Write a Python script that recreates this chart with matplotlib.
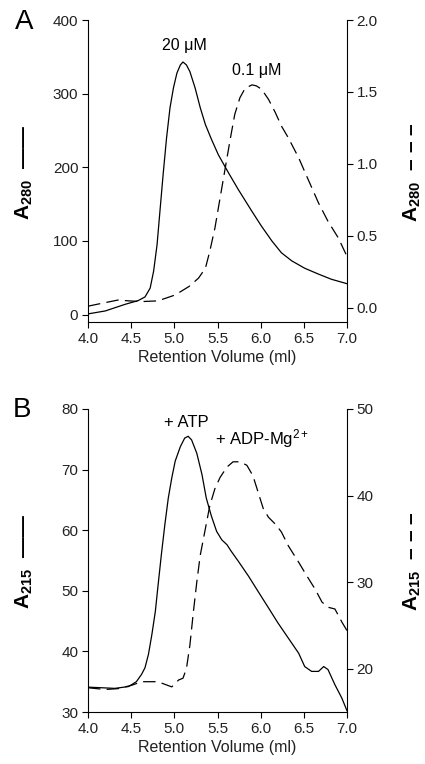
import matplotlib
matplotlib.use("Agg")
import matplotlib.pyplot as plt

plt.rcParams['font.family'] = ['Liberation Sans', 'DejaVu Sans']
plt.rcParams['mathtext.fontset'] = 'custom'
plt.rcParams['mathtext.rm'] = 'Liberation Sans'
plt.rcParams['mathtext.it'] = 'Liberation Sans:italic'
plt.rcParams['mathtext.bf'] = 'Liberation Sans:bold'

# panel A, solid trace (20 uM, left axis)
a_solid_x = [4.0, 4.2, 4.43, 4.58, 4.66, 4.72, 4.76, 4.80, 4.83, 4.87, 4.91, 4.95,
             4.99, 5.03, 5.07, 5.10, 5.14, 5.18, 5.24, 5.30, 5.36, 5.43, 5.51, 5.63,
             5.74, 5.90, 6.01, 6.13, 6.24, 6.36, 6.51, 6.67, 6.82, 7.0]
a_solid_y = [1, 5, 14, 19, 24, 36, 59, 95, 136, 190, 240, 281,
             308, 328, 339, 343, 339, 330, 308, 281, 258, 238, 217, 192,
             170, 140, 120, 100, 84, 73, 63, 55, 48, 42]

# panel A, dashed trace (0.1 uM, right axis)
a_dash_x = [4.0, 4.16, 4.35, 4.47, 4.62, 4.81, 5.01, 5.17, 5.28, 5.36, 5.41, 5.47,
            5.53, 5.59, 5.65, 5.70, 5.76, 5.82, 5.90, 5.95, 6.01, 6.09, 6.17, 6.24,
            6.32, 6.44, 6.55, 6.67, 6.78, 6.90, 7.0]
a_dash_y = [0.01, 0.03, 0.053, 0.047, 0.042, 0.047, 0.088, 0.147, 0.205, 0.274, 0.39, 0.553,
            0.763, 0.972, 1.18, 1.344, 1.46, 1.525, 1.549, 1.542, 1.519, 1.449, 1.356, 1.263,
            1.181, 1.042, 0.891, 0.728, 0.60, 0.484, 0.356]

# panel B, solid trace (+ ATP, left axis)
b_solid_x = [4.0, 4.16, 4.31, 4.47, 4.56, 4.62, 4.66, 4.70, 4.74, 4.78, 4.81, 4.85,
             4.89, 4.93, 4.97, 5.01, 5.07, 5.12, 5.16, 5.20, 5.26, 5.32, 5.37, 5.43,
             5.49, 5.55, 5.61, 5.66, 5.74, 5.86, 5.97, 6.09, 6.20, 6.32, 6.44, 6.51,
             6.59, 6.67, 6.73, 6.78, 6.86, 6.94, 7.0]
b_solid_y = [34.1, 34.0, 33.9, 34.2, 35.0, 36.2, 37.3, 39.5, 42.8, 46.6, 50.7, 56.0,
             60.9, 65.3, 68.6, 71.4, 73.8, 75.2, 75.5, 74.9, 72.7, 69.2, 65.3, 62.3,
             59.8, 58.4, 57.6, 56.5, 54.9, 52.4, 49.9, 47.2, 44.7, 42.2, 39.7, 37.5,
             36.7, 36.7, 37.5, 37.0, 34.5, 32.3, 30.2]

# panel B, dashed trace (+ ADP-Mg2+, right axis)
b_dash_x = [4.0, 4.2, 4.35, 4.51, 4.62, 4.70, 4.81, 4.89, 4.97, 5.05, 5.10, 5.14,
            5.18, 5.22, 5.26, 5.30, 5.36, 5.41, 5.47, 5.53, 5.61, 5.68, 5.76, 5.84,
            5.91, 5.97, 6.03, 6.09, 6.17, 6.24, 6.32, 6.44, 6.53, 6.63, 6.71, 6.78,
            6.86, 6.94, 7.0]
b_dash_y = [17.8, 17.6, 17.7, 18.1, 18.5, 18.5, 18.5, 18.2, 17.9, 18.7, 18.9, 20.0,
            22.7, 26.5, 30.0, 33.1, 36.2, 38.8, 40.8, 42.1, 43.3, 43.9, 43.9, 43.5,
            42.3, 40.4, 38.5, 37.5, 36.7, 35.8, 34.2, 32.3, 30.8, 29.2, 27.7, 27.1,
            26.9, 25.4, 24.4]

x_ticks = [4.0, 4.5, 5.0, 5.5, 6.0, 6.5, 7.0]
a_left_ticks = [0, 100, 200, 300, 400]
a_right_ticks = [0.0, 0.5, 1.0, 1.5, 2.0]
b_left_ticks = [30, 40, 50, 60, 70, 80]
b_right_ticks = [20, 30, 40, 50]

W, H = 425, 764
fig = plt.figure(figsize=(W / 100, H / 100), dpi=100)


def make_panel(top, bottom, ylim, ylim2, lt, rt, lfmt, rfmt):
    ax = fig.add_axes([88 / W, 1 - bottom / H, 259 / W, (bottom - top) / H])
    ax2 = ax.twinx()
    for a in (ax, ax2):
        a.spines['top'].set_visible(False)
        a.set_xlim(4.0, 7.0)
        a.tick_params(direction='out', length=4, width=0.8, labelsize=11,
                      pad=3, labelcolor='#222222')
    ax.spines['right'].set_visible(False)
    ax2.spines['left'].set_visible(False)
    ax2.spines['bottom'].set_visible(False)
    ax.set_ylim(*ylim)
    ax2.set_ylim(*ylim2)
    ax.set_xticks(x_ticks)
    ax.set_xticklabels(['%.1f' % v for v in x_ticks])
    ax.set_yticks(lt)
    ax.set_yticklabels([lfmt % v for v in lt])
    ax2.set_yticks(rt)
    ax2.set_yticklabels([rfmt % v for v in rt])
    ax.set_xlabel('Retention Volume (ml)', fontsize=11.5, labelpad=3,
                  color='#222222')
    return ax, ax2


axA, axA2 = make_panel(20, 322, (-10, 400), (-0.1, 2.0),
                       a_left_ticks, a_right_ticks, '%d', '%.1f')
axA.plot(a_solid_x, a_solid_y, color='black', lw=0.9)
axA2.plot(a_dash_x, a_dash_y, color='black', lw=0.9, dashes=(10, 5))
axA.text(5.12, 355, '20 \u03bcM', ha='center', va='bottom', fontsize=11.5)
axA2.text(5.95, 1.60, '0.1 \u03bcM', ha='center', va='bottom', fontsize=11.5)

axB, axB2 = make_panel(409, 712, (30, 80), (15, 50),
                       b_left_ticks, b_right_ticks, '%d', '%d')
axB.plot(b_solid_x, b_solid_y, color='black', lw=0.9)
axB2.plot(b_dash_x, b_dash_y, color='black', lw=0.9, dashes=(10, 5))
axB.text(5.14, 76.6, '+ ATP', ha='center', va='bottom', fontsize=12)
axB2.text(5.47, 45.3, '+ ADP-Mg$^{2+}$', ha='left', va='bottom', fontsize=12)

# axis labels and panel letters
solid_mark = '  \u2014\u2014'
dash_mark = '  \u2013 \u2013 \u2013'
for yc, lab in ((172, '280'), (561, '215')):
    sym = r'$\mathbf{A_{%s}}$' % lab
    fig.text(24 / W, 1 - yc / H, sym + solid_mark,
             rotation=90, ha='center', va='center', fontsize=15,
             fontweight='bold')
    fig.text(412 / W, 1 - yc / H, sym + dash_mark,
             rotation=90, ha='center', va='center', fontsize=15,
             fontweight='bold')
fig.text(24 / W, 1 - 22 / H, 'A', ha='center', va='center', fontsize=20)
fig.text(22 / W, 1 - 410 / H, 'B', ha='center', va='center', fontsize=20)

fig.savefig('out.png', dpi=100)
